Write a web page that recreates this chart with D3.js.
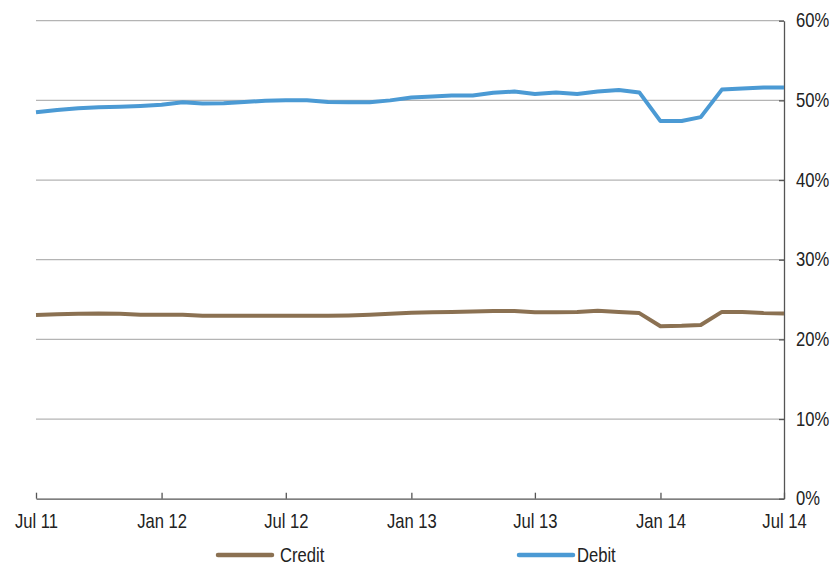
<!DOCTYPE html>
<html><head><meta charset="utf-8">
<script src="https://cdn.jsdelivr.net/npm/d3@7"></script>
<style>body{margin:0;background:#fff;}svg{display:block;font-family:"Liberation Sans",Arial,sans-serif;}</style>
</head><body><svg id="c" width="840" height="568"></svg>
<script>
const months = d3.range(37).map(i => new Date(2011, 6 + i, 1));
const credit = [23.05,23.15,23.2,23.25,23.2,23.1,23.1,23.1,22.95,22.95,22.95,22.95,22.95,22.95,22.95,23.0,23.1,23.2,23.35,23.4,23.45,23.5,23.55,23.55,23.4,23.4,23.45,23.6,23.45,23.3,21.65,21.7,21.8,23.45,23.45,23.3,23.25];
const debit = [48.5,48.8,49.0,49.15,49.2,49.3,49.45,49.75,49.6,49.65,49.8,49.95,50.0,50.0,49.8,49.75,49.75,50.0,50.35,50.5,50.6,50.6,50.95,51.1,50.8,51.0,50.8,51.1,51.3,51.0,47.4,47.4,47.9,51.35,51.5,51.6,51.6];
const yTicks = [0,10,20,30,40,50,60];
const xTickDates = [new Date(2011,6,1),new Date(2012,0,1),new Date(2012,6,1),new Date(2013,0,1),new Date(2013,6,1),new Date(2014,0,1),new Date(2014,6,1)];
const xTickLabels = ["Jul 11","Jan 12","Jul 12","Jan 13","Jul 13","Jan 14","Jul 14"];
const seriesNames = ["Credit","Debit"];
const colors = {Credit:"#8b7152", Debit:"#4b9ad4"};

const FONT = '"Liberation Sans",Arial,sans-serif';
const FS = 20, SX = 0.83;
const svg = d3.select("#c");
const L = 36, R = 784, T = 20.7, B = 498.7;
const x = d3.scaleTime().domain([months[0], months[36]]).range([L, R]);
const y = d3.scaleLinear().domain([0, 60]).range([B, T]);

// gridlines
svg.append("g").selectAll("line").data(yTicks.filter(d => d > 0)).join("line")
  .attr("x1", L).attr("x2", R).attr("y1", d => y(d)).attr("y2", d => y(d))
  .attr("stroke", "#b4b4b4").attr("stroke-width", 1.3);

// right axis
const ya = svg.append("g").attr("transform", `translate(${R},0)`)
  .call(d3.axisRight(y).tickValues(yTicks).tickFormat(d => d + "%").tickSize(0));
ya.select(".domain").attr("stroke", "#555").attr("stroke-width", 1.3);
ya.selectAll("text").attr("font-size", FS).attr("fill", "#222").attr("font-family", FONT)
  .attr("x", 0).attr("dy", "0.3em").attr("transform", `translate(12,0) scale(${SX},1)`);
ya.selectAll(".tick").append("line").attr("x1", -5).attr("x2", 0).attr("stroke", "#555").attr("stroke-width", 1.3);

// bottom axis
const xa = svg.append("g").attr("transform", `translate(0,${B})`)
  .call(d3.axisBottom(x).tickValues(xTickDates).tickFormat((d, i) => xTickLabels[i]).tickSize(0));
xa.select(".domain").attr("stroke", "#555").attr("stroke-width", 1.3);
xa.selectAll(".tick").append("line").attr("y1", -6).attr("y2", 0).attr("stroke", "#555").attr("stroke-width", 1.3);
xa.selectAll("text").attr("font-size", FS).attr("fill", "#222").attr("font-family", FONT)
  .attr("y", 29).attr("dy", 0).attr("transform", `scale(${SX},1)`);

// lines
const line = d3.line().x((d, i) => x(months[i])).y(d => y(d));
[["Credit", credit], ["Debit", debit]].forEach(([n, v]) => {
  svg.append("path").datum(v).attr("d", line).attr("fill", "none")
    .attr("stroke", colors[n]).attr("stroke-width", 4).attr("stroke-linejoin", "round");
});

// legend
const lg = [{n:"Credit", x0:218, tx:280}, {n:"Debit", x0:519, tx:577}];
lg.forEach(l => {
  svg.append("line").attr("x1", l.x0).attr("x2", l.x0 + 54).attr("y1", 555).attr("y2", 555)
    .attr("stroke", colors[l.n]).attr("stroke-width", 4.5).attr("stroke-linecap", "round");
  svg.append("text").attr("transform", `translate(${l.tx},562) scale(${SX},1)`)
    .attr("font-size", FS).attr("font-family", FONT).attr("fill", "#222").text(l.n);
});
</script></body></html>
